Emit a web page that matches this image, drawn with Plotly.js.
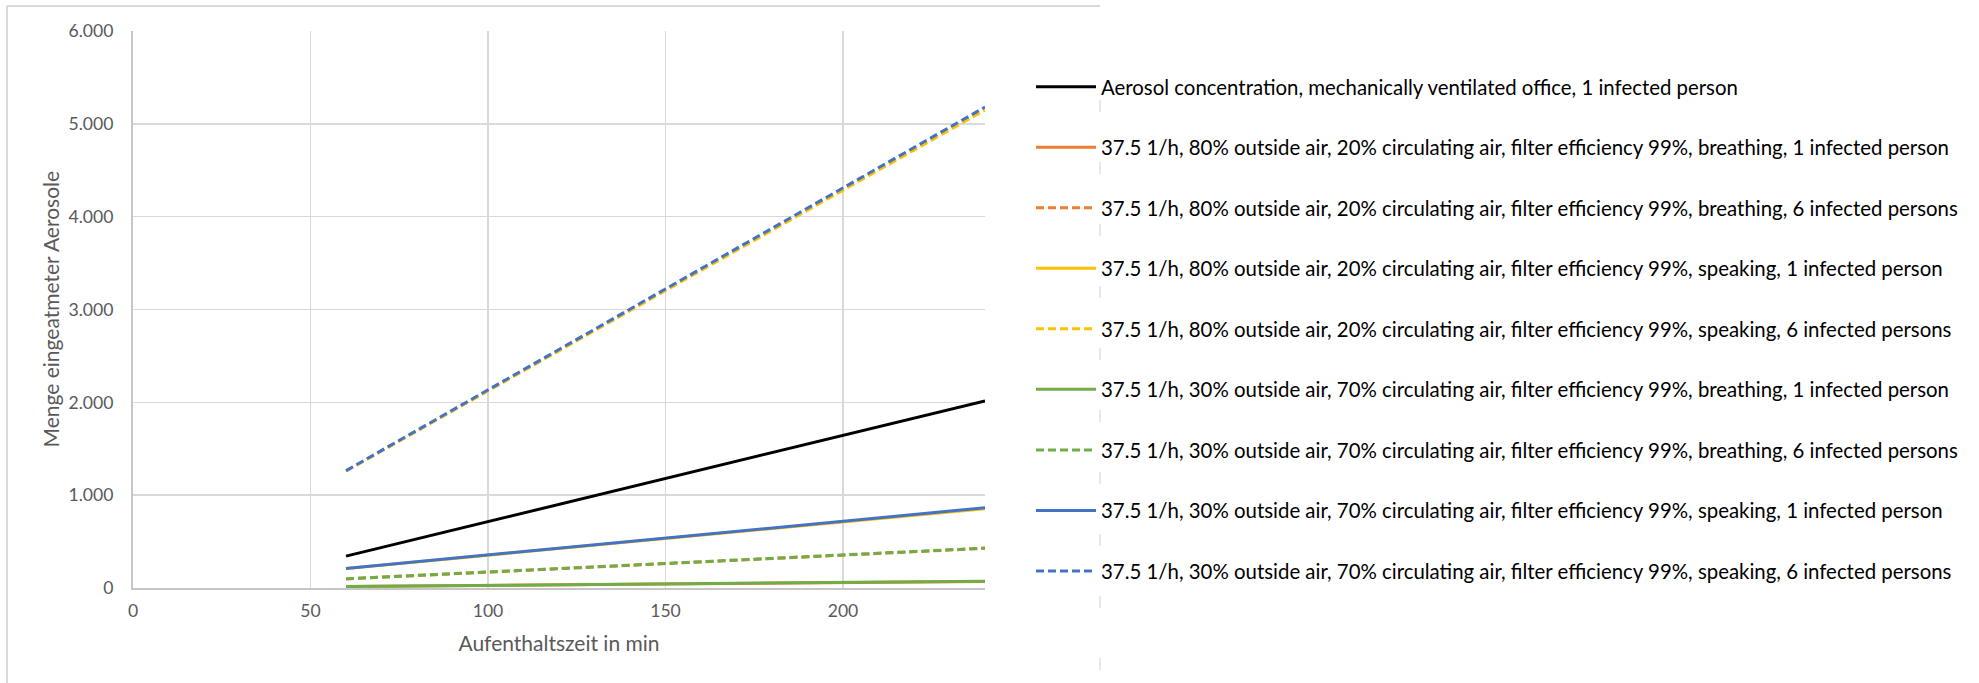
<!DOCTYPE html>
<html>
<head>
<meta charset="utf-8">
<script src="https://cdn.plot.ly/plotly-3.0.1.min.js"></script>
<style>
  html, body { margin: 0; padding: 0; background: #ffffff; }
  #chart { width: 1979px; height: 683px; }
</style>
</head>
<body>
<div id="chart"></div>
<script>
// Time spent in the room (minutes)
const minutes = [60, 120, 180, 240];

// Cumulative inhaled aerosol amount per scenario
const mechOffice   = [343, 901, 1457, 2016];
const out80Breath1 = [16, 35, 53, 71];
const out80Breath6 = [98, 207, 317, 427];
const out80Speak1  = [210, 425, 640, 855];
const out80Speak6  = [1258, 2555, 3853, 5150];
const out30Breath1 = [16.5, 35, 54, 72];
const out30Breath6 = [99, 209, 320, 430];
const out30Speak1  = [211, 429, 647, 865];
const out30Speak6  = [1264, 2570, 3875, 5180];

const seriesNames = [
  "Aerosol concentration, mechanically ventilated office, 1 infected person",
  "37.5 1/h, 80% outside air, 20% circulating air, filter efficiency 99%, breathing, 1 infected person",
  "37.5 1/h, 80% outside air, 20% circulating air, filter efficiency 99%, breathing, 6 infected persons",
  "37.5 1/h, 80% outside air, 20% circulating air, filter efficiency 99%, speaking, 1 infected person",
  "37.5 1/h, 80% outside air, 20% circulating air, filter efficiency 99%, speaking, 6 infected persons",
  "37.5 1/h, 30% outside air, 70% circulating air, filter efficiency 99%, breathing, 1 infected person",
  "37.5 1/h, 30% outside air, 70% circulating air, filter efficiency 99%, breathing, 6 infected persons",
  "37.5 1/h, 30% outside air, 70% circulating air, filter efficiency 99%, speaking, 1 infected person",
  "37.5 1/h, 30% outside air, 70% circulating air, filter efficiency 99%, speaking, 6 infected persons"
];

const xTitle = "Aufenthaltszeit in min";
const yTitle = "Menge eingeatmeter Aerosole";

const seriesValues = [mechOffice, out80Breath1, out80Breath6, out80Speak1, out80Speak6,
                      out30Breath1, out30Breath6, out30Speak1, out30Speak6];
const seriesColors = ["#000000", "#ED7D31", "#ED7D31", "#FFC000", "#FFC000",
                      "#70AD47", "#70AD47", "#4472C4", "#4472C4"];
const seriesDashed = [false, false, true, false, true, false, true, false, true];

const DASH = "8px,4px";
const FONT = "Lato, 'Open Sans', sans-serif";
const GREY_TEXT = "#595959";

const traces = seriesValues.map((vals, i) => ({
  type: "scatter",
  mode: "lines",
  x: minutes,
  y: vals,
  name: seriesNames[i],
  legendgroup: "g" + i,
  line: { color: seriesColors[i], width: 3, dash: seriesDashed[i] ? DASH : "solid" },
  hoverinfo: "skip"
}));

// page geometry
const W = 1979, H = 683;
const M = { l: 133, r: 994, t: 31, b: 95 };
const plotW = W - M.l - M.r, plotH = H - M.t - M.b;
const px = v => (v - M.l) / plotW;
const py = v => (H - M.b - v) / plotH;

const frameColor = "#d9d9d9";
const shapes = [
  // outer chart frame
  { type: "line", xref: "paper", yref: "paper", x0: px(7), x1: px(7), y0: py(6), y1: py(700),
    line: { color: frameColor, width: 2 } },
  { type: "line", xref: "paper", yref: "paper", x0: px(7), x1: px(1100), y0: py(6), y1: py(6),
    line: { color: frameColor, width: 2 } },
  { type: "line", xref: "paper", yref: "paper", x0: px(1100), x1: px(1100), y0: py(100), y1: py(700),
    line: { color: "#e2e2e2", width: 1.5, dash: "12px,50px" } }
];

// vertical axis title
const annotations = [
  { xref: "paper", yref: "paper", x: px(50), y: 0.5, xanchor: "center", yanchor: "middle",
    text: yTitle, textangle: -90, showarrow: false,
    font: { family: FONT, size: 21, color: GREY_TEXT } }
];

const layout = {
  width: W,
  height: H,
  margin: M,
  paper_bgcolor: "#ffffff",
  plot_bgcolor: "#ffffff",
  separators: ",.",
  font: { family: FONT, size: 18, color: GREY_TEXT },
  showlegend: true,
  legend: {
    x: px(1031),
    xanchor: "left",
    y: py(67),
    yanchor: "top",
    traceorder: "grouped",
    tracegroupgap: 31,
    itemwidth: 60,
    itemclick: false,
    itemdoubleclick: false,
    bgcolor: "rgba(0,0,0,0)",
    borderwidth: 0,
    font: { family: FONT, size: 20.4, color: "#000000" }
  },
  xaxis: {
    range: [0, 240],
    tick0: 0,
    dtick: 50,
    showgrid: true,
    gridcolor: "#d9d9d9",
    gridwidth: 1.5,
    zeroline: false,
    showline: true,
    linecolor: "#c6c6c6",
    linewidth: 2,
    ticks: "",
    ticklabelstandoff: 6,
    tickfont: { family: FONT, size: 17.6, color: GREY_TEXT },
    title: { text: xTitle, standoff: 16, font: { family: FONT, size: 21, color: GREY_TEXT } },
    fixedrange: true
  },
  yaxis: {
    range: [0, 6000],
    tick0: 0,
    dtick: 1000,
    tickformat: ",d",
    showgrid: true,
    gridcolor: "#d9d9d9",
    gridwidth: 1.5,
    zeroline: false,
    showline: true,
    linecolor: "#c6c6c6",
    linewidth: 2,
    ticks: "",
    ticklabelstandoff: 14,
    tickfont: { family: FONT, size: 17.6, color: GREY_TEXT },
    fixedrange: true
  },
  shapes: shapes,
  annotations: annotations
};

Plotly.newPlot("chart", traces, layout, { displayModeBar: false, staticPlot: true });
</script>
</body>
</html>
